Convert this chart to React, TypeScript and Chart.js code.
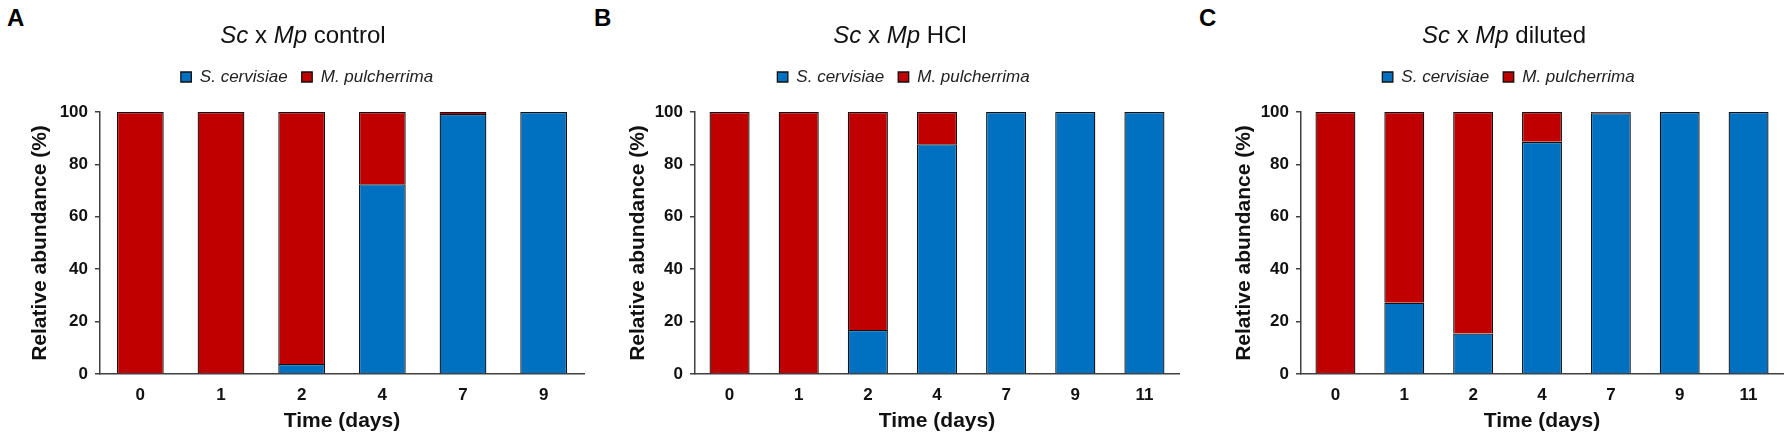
import { useEffect, useRef } from "react"
import { Chart, registerables } from "chart.js"

Chart.register(...registerables)

const FONT = "'Liberation Sans', Arial, Helvetica, sans-serif"

// time points (days)
const daysA = ["0", "1", "2", "4", "7", "9"]
const daysBC = ["0", "1", "2", "4", "7", "9", "11"]

// relative abundance (%)
const scControl = [0, 0.3, 3.8, 72.4, 99.2, 100]
const mpControl = [100, 99.7, 96.2, 27.6, 0.8, 0]
const scHcl = [0, 0.3, 16.8, 87.7, 100, 100, 100]
const mpHcl = [100, 99.7, 83.2, 12.3, 0, 0, 0]
const scDiluted = [0, 27.2, 15.5, 88.6, 99.5, 100, 100]
const mpDiluted = [100, 72.8, 84.5, 11.4, 0.5, 0, 0]

const speciesNames = ["S. cervisiae", "M. pulcherrima"]
const speciesColors = ["#0070C0", "#C00000"]

// extra space between legend and plot
const legendGap = {
  id: "legendGap",
  beforeLayout(chart: any) {
    const legend = chart.legend
    if (!legend || legend._gapPatched) return
    const fit = legend.fit
    legend.fit = function () {
      fit.call(this)
      this.height += 16.5
    }
    legend._gapPatched = true
  },
}

interface PanelProps {
  labels: string[]
  sc: number[]
  mp: number[]
  left: number
  width: number
  axisWidth: number
}

function Panel({ labels, sc, mp, left, width, axisWidth }: PanelProps) {
  const chartRef = useRef<HTMLCanvasElement>(null)

  useEffect(() => {
    if (!chartRef.current) return
    const ctx = chartRef.current.getContext("2d")
    if (!ctx) return

    const chart = new Chart(ctx, {
      type: "bar",
      data: {
        labels,
        datasets: [sc, mp].map((values, i) => ({
          label: speciesNames[i],
          data: values,
          backgroundColor: speciesColors[i],
          borderColor: "#111",
          borderWidth: 1.3,
          categoryPercentage: 1,
          barPercentage: 0.58,
        })),
      },
      options: {
        responsive: true,
        maintainAspectRatio: false,
        animation: false,
        layout: { padding: { top: 54.5, right: 2, bottom: 0, left: 0 } },
        plugins: {
          legend: {
            position: "top",
            labels: {
              boxWidth: 10.5,
              boxHeight: 10,
              padding: 14,
              color: "#222",
              font: { family: FONT, size: 17, style: "italic" },
            },
          },
          tooltip: { enabled: false },
        },
        scales: {
          x: {
            stacked: true,
            grid: { display: false, drawTicks: false },
            border: { display: true, color: "#404040", width: 1.5 },
            ticks: { color: "#111", padding: 11, font: { family: FONT, size: 17, weight: "bold" } },
            title: {
              display: true,
              text: "Time (days)",
              color: "#111",
              padding: { top: 0, bottom: 8 },
              font: { family: FONT, size: 21, weight: "bold", lineHeight: 1 },
            },
            afterFit: (scale: any) => {
              scale.height = 66
            },
          },
          y: {
            stacked: true,
            min: 0,
            max: 100,
            grid: { display: true, drawOnChartArea: false, drawTicks: true, tickLength: 5, color: "#404040", lineWidth: 1.5 },
            border: { display: true, color: "#404040", width: 1.5 },
            ticks: { stepSize: 20, color: "#111", padding: 7, font: { family: FONT, size: 17, weight: "bold" } },
            title: {
              display: true,
              text: "Relative abundance (%)",
              color: "#111",
              padding: { top: 0, bottom: 0 },
              font: { family: FONT, size: 21, weight: "bold", lineHeight: 1 },
            },
            afterFit: (scale: any) => {
              scale.width = axisWidth
            },
          },
        },
      },
      plugins: [legendGap],
    })

    return () => {
      chart.destroy()
    }
  }, [labels, sc, mp, axisWidth])

  return (
    <div style={{ position: "absolute", left, top: 0, width, height: 440 }}>
      <canvas ref={chartRef} />
    </div>
  )
}

function Heading({ x, a, b, rest }: { x: number; a: string; b: string; rest: string }) {
  return (
    <div
      style={{
        position: "absolute",
        left: x,
        top: 23,
        transform: "translateX(-50%)",
        whiteSpace: "nowrap",
        fontFamily: FONT,
        fontSize: 24,
        lineHeight: "24px",
        color: "#111",
      }}
    >
      <i>{a}</i> x <i>{b}</i> {rest}
    </div>
  )
}

function Letter({ x, text }: { x: number; text: string }) {
  return (
    <div
      style={{
        position: "absolute",
        left: x,
        top: 6,
        fontFamily: FONT,
        fontSize: 24,
        lineHeight: "24px",
        fontWeight: "bold",
        color: "#000",
      }}
    >
      {text}
    </div>
  )
}

export default function App() {
  return (
    <div
      style={{
        position: "absolute",
        left: 0,
        top: 0,
        width: 1792,
        height: 440,
        overflow: "hidden",
        background: "#fff",
      }}
    >
      <Panel labels={daysA} sc={scControl} mp={mpControl} left={30} width={556} axisWidth={70} />
      <Panel labels={daysBC} sc={scHcl} mp={mpHcl} left={628} width={553} axisWidth={67} />
      <Panel labels={daysBC} sc={scDiluted} mp={mpDiluted} left={1234} width={551} axisWidth={67} />
      <Heading x={303} a="Sc" b="Mp" rest="control" />
      <Heading x={900} a="Sc" b="Mp" rest="HCl" />
      <Heading x={1504} a="Sc" b="Mp" rest="diluted" />
      <Letter x={7} text="A" />
      <Letter x={594} text="B" />
      <Letter x={1199} text="C" />
    </div>
  )
}
